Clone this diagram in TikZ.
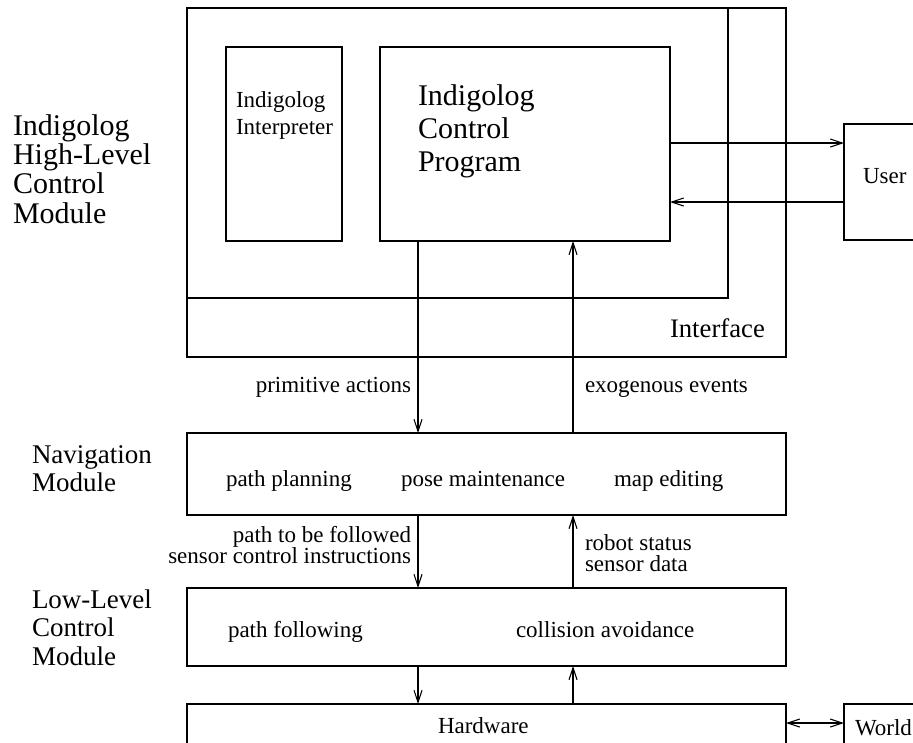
\documentclass[tikz,border=0pt]{standalone}
\usepackage{fontspec}
\setmainfont{Liberation Serif}
\usetikzlibrary{arrows.meta}
\newcommand\mytxt[5]{\scalebox{#3}[1]{\fontsize{#1}{#2}\selectfont\begin{tabular}[t]{@{}#4@{}}#5\end{tabular}}}
\begin{document}
\begin{tikzpicture}[x=1pt,y=-1pt, line width=1.1pt,
  box/.style={draw, rectangle, inner sep=0pt, outer sep=0pt, anchor=north west},
  lbl/.style={inner sep=0pt, outer sep=0pt},
  arr/.style={-{Straight Barb[length=12pt,width=8pt]}},
  darr/.style={{Straight Barb[length=12pt,width=8pt]}-{Straight Barb[length=12pt,width=8pt]}}]
\useasboundingbox (0,0) rectangle (913,742);
\fill[white] (0,0) rectangle (913,742);
\clip (0,0) rectangle (913,742);
% boxes
\node[box, minimum width=599pt, minimum height=349pt] (iface) at (187,8) {};
\node[box, minimum width=541pt, minimum height=290pt] (hlc) at (187,8) {};
\node[box, minimum width=116pt, minimum height=194pt] (interp) at (226,47) {};
\node[box, minimum width=290pt, minimum height=194pt] (ctrl) at (380,47) {};
\node[box, minimum width=120pt, minimum height=116pt] (user) at (844,124) {};
\node[box, minimum width=599pt, minimum height=82pt] (nav) at (187,433) {};
\node[box, minimum width=599pt, minimum height=78pt] (low) at (187,588) {};
\node[box, minimum width=599pt, minimum height=80pt] (hw) at (187,704) {};
\node[box, minimum width=120pt, minimum height=80pt] (world) at (844,704) {};
% helper coordinates
\coordinate (xa) at (418,0);
\coordinate (xb) at (573,0);
\coordinate (yu1) at (0,143);
\coordinate (yu2) at (0,202);
\coordinate (yw) at (0,723);
% connectors
\draw[arr] (ctrl.east |- yu1) -- (user.west |- yu1);
\draw[arr] (user.west |- yu2) -- (ctrl.east |- yu2);
\draw[arr] (ctrl.south -| xa) -- (nav.north -| xa);
\draw[arr] (nav.north -| xb) -- (ctrl.south -| xb);
\draw[arr] (nav.south -| xa) -- (low.north -| xa);
\draw[arr] (low.north -| xb) -- (nav.south -| xb);
\draw[arr] (low.south -| xa) -- (hw.north -| xa);
\draw[arr] (hw.north -| xb) -- (low.south -| xb);
\draw[darr] (hw.east |- yw) -- (world.west |- yw);
% texts
\node[lbl, anchor=base west] (thlc) at (13,135) {\mytxt{30}{28.7}{1}{l}{Indigolog\\High-Level\\Control\\Module}};
\node[lbl, anchor=base west] (tnav) at (32,463) {\mytxt{27}{28.5}{1}{l}{Navigation\\Module}};
\node[lbl, anchor=base west] (tlow) at (32,608) {\mytxt{27}{28.5}{1}{l}{Low-Level\\Control\\Module}};
\node[lbl, anchor=base west] (tint) at (236,107) {\mytxt{23}{27}{1}{l}{Indigolog\\Interpreter}};
\node[lbl, anchor=base west] (tctrl) at (418,105) {\mytxt{30}{33}{1}{l}{Indigolog\\Control\\Program}};
\node[lbl, anchor=base west] (tuser) at (863,183) {\mytxt{23}{23}{1}{l}{User}};
\node[lbl, anchor=base west] (tiface) at (670,337) {\mytxt{26.7}{26.7}{1}{l}{Interface}};
\node[lbl, anchor=base east] (tprim) at (411,392) {\mytxt{23}{19.5}{1}{r}{primitive actions}};
\node[lbl, anchor=base west] (texo) at (585,392) {\mytxt{23}{19.5}{1}{l}{exogenous events}};
\node[lbl, anchor=base west] (tpp) at (226,486) {\mytxt{23}{23}{1}{l}{path planning}};
\node[lbl, anchor=base west] (tpm) at (401,486) {\mytxt{23}{23}{1}{l}{pose maintenance}};
\node[lbl, anchor=base west] (tme) at (614,486) {\mytxt{23}{23}{1}{l}{map editing}};
\node[lbl, anchor=base east] (tpath) at (411,542) {\mytxt{23}{19.5}{1}{r}{path to be followed\\sensor control instructions}};
\node[lbl, anchor=base west] (trob) at (585,550) {\mytxt{23}{19.5}{1}{l}{robot status\\sensor data}};
\node[lbl, anchor=base west] (tpf) at (228,637) {\mytxt{23}{23}{1}{l}{path following}};
\node[lbl, anchor=base west] (tca) at (516,637) {\mytxt{23}{23}{1}{l}{collision avoidance}};
\node[lbl, anchor=base west] (thw) at (438,733) {\mytxt{23}{23}{1}{l}{Hardware}};
\node[lbl, anchor=base west] (twd) at (855,735) {\mytxt{23}{23}{1}{l}{World}};
\end{tikzpicture}
\end{document}
